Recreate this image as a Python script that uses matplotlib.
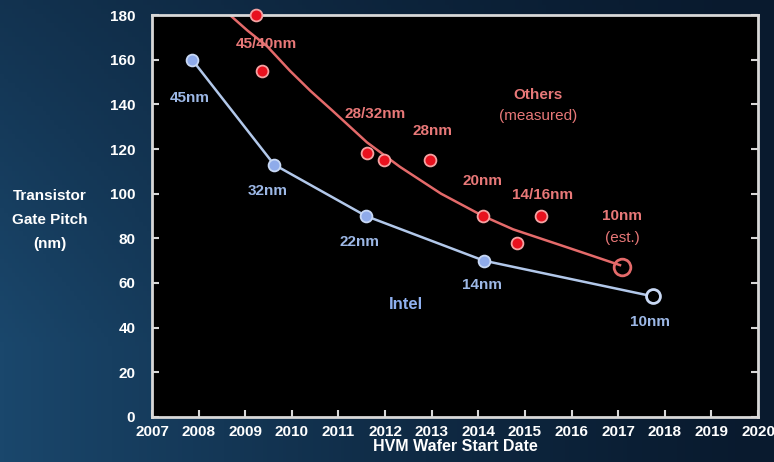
import numpy as np
import matplotlib.pyplot as plt
from matplotlib.colors import LinearSegmentedColormap

# --- data ---
intel_years = [2007.86, 2009.62, 2011.59, 2014.12, 2017.75]
intel_pitch = [160, 113, 90, 70, 54]
intel_labels = ["45nm", "32nm", "22nm", "14nm", "10nm"]

others_years = [2009.23, 2009.36, 2011.61, 2011.98, 2012.97, 2014.10, 2014.83, 2015.35]
others_pitch = [180, 155, 118, 115, 115, 90, 78, 90]
others_labels = ["45/40nm", "28/32nm", "28nm", "20nm", "14/16nm"]
others_est_year = 2017.09
others_est_pitch = 67

# trend curve drawn through the "others" points
trend_years = [2008.67, 2009.05, 2009.47, 2009.96, 2010.40, 2010.88, 2011.61,
               2012.32, 2013.20, 2014.10, 2014.75, 2015.90, 2017.04]
trend_pitch = [180, 173, 166, 155, 146, 137, 123, 112, 100, 90, 84, 76, 68]

year_ticks = list(range(2007, 2021))
pitch_ticks = list(range(0, 181, 20))

FONT = "Liberation Sans"
BLUE_LINE = "#b2c8ea"
BLUE_MARK = "#8fabea"
BLUE_TEXT = "#9db8e6"
RED_LINE = "#e46a6a"
RED_MARK = "#e8111e"
RED_EDGE = "#f4a3a3"
RED_TEXT = "#e87878"

fig = plt.figure(figsize=(7.74, 4.62), dpi=100)

# background gradient: lighter blue at left, dark navy at right, dimmer at top
bg = fig.add_axes([0, 0, 1, 1])
gx = np.linspace(1, 0, 200) ** 1.3
gy = np.clip(np.linspace(0.55, 1.15, 100), 0, 1)[:, None]
grad = gx[None, :] * gy
bg.imshow(grad, cmap=LinearSegmentedColormap.from_list("bgc", ["#091a2e", "#1a476c"]),
          aspect="auto", extent=[0, 1, 0, 1], origin="upper")
bg.axis("off")

ax = fig.add_axes([152 / 774, 45 / 462, 606 / 774, 402 / 462])
ax.set_facecolor("black")

# others trend + points
ax.plot(trend_years, trend_pitch, color=RED_LINE, lw=1.8, zorder=2)
ax.plot(others_years, others_pitch, "o", ms=8.5, color=RED_MARK,
        mec=RED_EDGE, mew=1.3, zorder=3, clip_on=False)
ax.plot([others_est_year], [others_est_pitch], "o", ms=12, mfc="none",
        mec=RED_LINE, mew=2, zorder=3)

# intel line + points
ax.plot(intel_years, intel_pitch, color=BLUE_LINE, lw=1.8, zorder=2)
ax.plot(intel_years[:-1], intel_pitch[:-1], "o", ms=8.5, color=BLUE_MARK,
        mec="#c8d8f4", mew=1.3, zorder=3)
ax.plot(intel_years[-1:], intel_pitch[-1:], "o", ms=10, mfc="black",
        mec="#c8d8f4", mew=2, zorder=3)

# labels
intel_label_pos = [(2007.82, 143), (2009.49, 101), (2011.46, 78.5),
                   (2014.08, 59), (2017.69, 42.6)]
for lab, (x, y) in zip(intel_labels, intel_label_pos):
    ax.text(x, y, lab, color=BLUE_TEXT, fontsize=11, fontweight="bold",
            family=FONT, ha="center", va="center")
ax.text(2012.45, 50.5, "Intel", color="#8fb0f0", fontsize=12,
        fontweight="bold", family=FONT, ha="center", va="center")

others_label_pos = [(2009.45, 167), (2011.79, 135.5), (2013.01, 128),
                    (2014.10, 105.5), (2015.37, 99.6)]
for lab, (x, y) in zip(others_labels, others_label_pos):
    ax.text(x, y, lab, color=RED_TEXT, fontsize=11, fontweight="bold",
            family=FONT, ha="center", va="center")
ax.text(2017.09, 90, "10nm", color=RED_TEXT, fontsize=11, fontweight="bold",
        family=FONT, ha="center", va="center")
ax.text(2017.09, 80, "(est.)", color=RED_TEXT, fontsize=11,
        family=FONT, ha="center", va="center")
ax.text(2015.28, 144, "Others", color=RED_TEXT, fontsize=11, fontweight="bold",
        family=FONT, ha="center", va="center")
ax.text(2015.28, 135, "(measured)", color=RED_TEXT, fontsize=11,
        family=FONT, ha="center", va="center")

# axes styling
ax.set_xlim(2007, 2020)
ax.set_ylim(0, 180)
ax.set_xticks(year_ticks)
ax.set_yticks(pitch_ticks)
for s in ax.spines.values():
    s.set_color("#d8d8d8")
    s.set_linewidth(2)
ax.tick_params(axis="both", direction="in", colors="#d8d8d8", length=5,
               width=1.5, labelcolor="white", labelsize=11, right=True)
ax.tick_params(axis="y", pad=12)
ax.tick_params(axis="x", pad=6)
for t in ax.get_xticklabels() + ax.get_yticklabels():
    t.set_fontweight("bold")
    t.set_family(FONT)

ax.set_xlabel("HVM Wafer Start Date", color="white", fontsize=11.5,
              fontweight="bold", family=FONT, labelpad=0)
fig.text(50 / 774, 1 - 220 / 462, "Transistor\nGate Pitch\n(nm)", color="white",
         fontsize=11, fontweight="bold", family=FONT, ha="center", va="center",
         linespacing=1.9)

fig.savefig("out.png", dpi=100, facecolor=fig.get_facecolor())
